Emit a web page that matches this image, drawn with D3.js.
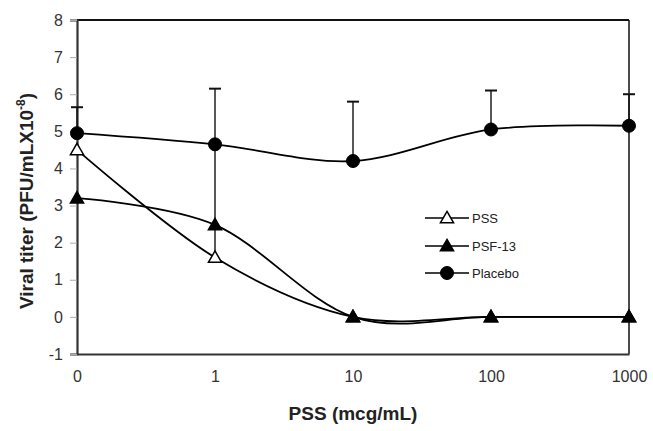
<!DOCTYPE html>
<html>
<head>
<meta charset="utf-8">
<script src="https://cdn.jsdelivr.net/npm/d3@7"></script>
<style>
  html, body { margin: 0; padding: 0; background: #fff; }
  svg { display: block; font-family: Arial, "Liberation Sans", sans-serif; }
</style>
</head>
<body>
<svg id="chart" width="653" height="431"></svg>
<script>
// Concentrations (categorical, log-spaced)
const doses = ["0", "1", "10", "100", "1000"];
// Viral titer per group
const pss = [4.5, 1.6, 0, 0, 0];
const psf13 = [3.2, 2.48, 0, 0, 0];
const placebo = [4.95, 4.65, 4.2, 5.05, 5.15];
// Placebo error bar ends
const placeboErrHigh = [5.65, 6.15, 5.8, 6.1, 6.0];
const placeboErrLow = [4.95, 1.75, 4.2, 5.05, 5.15];
const yTicks = [-1, 0, 1, 2, 3, 4, 5, 6, 7, 8];

const svg = d3.select("#chart");
const margin = { top: 20, right: 24, bottom: 77, left: 77 };
const W = 653, H = 431;

const x = d3.scalePoint().domain(doses).range([margin.left, W - margin.right]);
const y = d3.scaleLinear().domain([-1, 8]).range([H - margin.bottom, margin.top]);

// Frame: top and right edges
svg.append("line").attr("x1", x.range()[0]).attr("x2", x.range()[1])
  .attr("y1", y(8)).attr("y2", y(8)).attr("stroke", "#111").attr("stroke-width", 2);
svg.append("line").attr("x1", x.range()[1]).attr("x2", x.range()[1])
  .attr("y1", y(8)).attr("y2", y(-1)).attr("stroke", "#111").attr("stroke-width", 1.5);

// Y axis
const yAxis = svg.append("g").attr("transform", `translate(${margin.left},0)`)
  .call(d3.axisLeft(y).tickValues(yTicks).tickSize(7).tickPadding(7).tickFormat(d => String(d)));
yAxis.select(".domain").attr("stroke", "#333").attr("stroke-width", 2.2);
yAxis.selectAll(".tick line").attr("stroke", "#aaa");
yAxis.selectAll("text").attr("font-size", 16).attr("fill", "#333");

// X axis at bottom
const xAxis = svg.append("g").attr("transform", `translate(0,${y(-1)})`)
  .call(d3.axisBottom(x).tickSize(0).tickPadding(17));
xAxis.select(".domain").attr("stroke", "#333").attr("stroke-width", 2.2);
xAxis.selectAll("text").attr("font-size", 16).attr("fill", "#333");

// Axis titles
svg.append("text").attr("x", (x.range()[0] + x.range()[1]) / 2).attr("y", 420)
  .attr("text-anchor", "middle").attr("font-size", 19).attr("font-weight", "bold")
  .attr("fill", "#222").text("PSS (mcg/mL)");

const yt = svg.append("text")
  .attr("transform", `translate(33,${(y(8) + y(-1)) / 2 + 14}) rotate(-90)`)
  .attr("text-anchor", "middle").attr("font-size", 19).attr("font-weight", "bold").attr("fill", "#222");
yt.append("tspan").text("Viral titer (PFU/mLX10");
yt.append("tspan").attr("font-size", 12).attr("dy", -8).text("-8");
yt.append("tspan").attr("dy", 8).text(")");

// Error bars (placebo)
const capW = 6;
const eb = svg.append("g").attr("stroke", "#111").attr("stroke-width", 1.4);
doses.forEach((d, i) => {
  eb.append("line").attr("x1", x(d)).attr("x2", x(d))
    .attr("y1", y(placeboErrHigh[i])).attr("y2", y(placeboErrLow[i]));
  eb.append("line").attr("x1", x(d) - capW).attr("x2", x(d) + capW)
    .attr("y1", y(placeboErrHigh[i])).attr("y2", y(placeboErrHigh[i])).attr("stroke-width", 2);
});

// Smoothed series lines
const line = d3.line().x((v, i) => x(doses[i])).y(v => y(v)).curve(d3.curveCardinal.tension(0));
const series = [
  { name: "PSS", vals: pss, sym: "tri", fill: "#fff" },
  { name: "PSF-13", vals: psf13, sym: "tri", fill: "#000" },
  { name: "Placebo", vals: placebo, sym: "circle", fill: "#000" }
];
series.forEach(s => {
  svg.append("path").attr("d", line(s.vals)).attr("fill", "none")
    .attr("stroke", "#000").attr("stroke-width", 1.8);
});

const triSym = d3.symbol().type(d3.symbolTriangle).size(75);
function drawMarker(g, s, cx, cy) {
  if (s.sym === "circle") {
    g.append("circle").attr("cx", cx).attr("cy", cy).attr("r", 6.5)
      .attr("fill", s.fill).attr("stroke", "#000").attr("stroke-width", 1);
  } else {
    g.append("path").attr("d", triSym()).attr("transform", `translate(${cx},${cy + 1})`)
      .attr("fill", s.fill).attr("stroke", "#000").attr("stroke-width", 1.5);
  }
}
series.forEach(s => {
  const g = svg.append("g");
  s.vals.forEach((v, i) => drawMarker(g, s, x(doses[i]), y(v)));
});

// Legend
const legend = svg.append("g");
const legY = [218, 246, 273];
series.forEach((s, i) => {
  legend.append("line").attr("x1", 425).attr("x2", 469).attr("y1", legY[i]).attr("y2", legY[i])
    .attr("stroke", "#000").attr("stroke-width", 1.5);
  drawMarker(legend, s, 447, legY[i]);
  legend.append("text").attr("x", 472).attr("y", legY[i] + 5).attr("font-size", 13)
    .attr("fill", "#222").text(s.name);
});
</script>
</body>
</html>
